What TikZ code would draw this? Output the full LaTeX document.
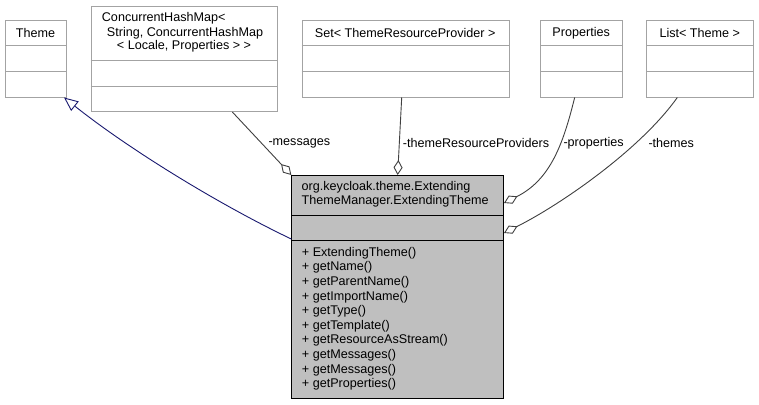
\documentclass[tikz,border=0pt]{standalone}
\usepackage{fontspec}
\setmainfont{Liberation Sans}
\usetikzlibrary{arrows.meta}
\definecolor{boxgray}{HTML}{A3A3A3}
\definecolor{mainfill}{HTML}{BFBFBF}
\definecolor{edgegray}{HTML}{404040}
\definecolor{inhblue}{HTML}{191970}
\tikzset{
  cls/.style={draw=boxgray, fill=white, line width=1pt, anchor=north west, inner sep=0pt},
  mainbox/.style={draw=black, fill=mainfill, line width=1pt, anchor=north west, inner sep=0pt},
  sepline/.style={draw=boxgray, line width=1pt},
  mainsep/.style={draw=black, line width=1pt},
  txt/.style={inner sep=0pt, font=\fontsize{12.6}{14.6}\selectfont},
  lbl/.style={txt, anchor=west},
  agg/.style={draw=edgegray, line width=0.9pt, -{Diamond[open, fill=white, length=15pt, width=9pt]}},
  inh/.style={draw=inhblue, line width=0.9pt, -{Triangle[open, fill=white, length=14pt, width=12pt]}},
}
\begin{document}
\begin{tikzpicture}[x=1pt,y=-1pt]
\useasboundingbox[fill=white] (0,0) rectangle (759,404);
% Theme
\node[cls, minimum width=61pt, minimum height=76pt] (theme) at (5,20.5) {};
\draw[sepline] (5,45.5) -- (66,45.5);
\draw[sepline] (5,71) -- (66,71);
\node[txt] (themet) at (35.5,33) {Theme};
% ConcurrentHashMap
\node[cls, minimum width=186.3pt, minimum height=105.3pt] (chm) at (90.7,5.7) {};
\draw[sepline] (90.7,60.7) -- (277,60.7);
\draw[sepline] (90.7,86) -- (277,86);
\node[txt, anchor=west] (chm1) at (101.7,18.5) {ConcurrentHashMap<};
\node[txt] (chm2) at (185,33) {String, ConcurrentHashMap};
\node[txt] (chm3) at (184,46) {< Locale, Properties > >};
% Set
\node[cls, minimum width=207pt, minimum height=76pt] (set) at (301.7,20.5) {};
\draw[sepline] (301.7,45.5) -- (508.7,45.5);
\draw[sepline] (301.7,71) -- (508.7,71);
\node[txt] (sett) at (405.2,33) {Set< ThemeResourceProvider >};
% Properties
\node[cls, minimum width=81.7pt, minimum height=76pt] (props) at (540.3,20.5) {};
\draw[sepline] (540.3,45.5) -- (622,45.5);
\draw[sepline] (540.3,71) -- (622,71);
\node[txt] (propst) at (581.2,33) {Properties};
% List
\node[cls, minimum width=107pt, minimum height=76pt] (list) at (646.3,20.5) {};
\draw[sepline] (646.3,45.5) -- (753.3,45.5);
\draw[sepline] (646.3,71) -- (753.3,71);
\node[txt] (listt) at (699.8,33) {List< Theme >};
% Main
\node[mainbox, minimum width=211.7pt, minimum height=222.7pt] (main) at (291.3,175) {};
\draw[mainsep] (291.3,215) -- (503,215);
\draw[mainsep] (291.3,240) -- (503,240);
\node[txt, anchor=north west, align=left] (maint) at (301.5,181) {org.keycloak.theme.Extending\\ThemeManager.ExtendingTheme};
\node[txt, anchor=north west, align=left] (members) at (301.7,247) {+ ExtendingTheme()\\+ getName()\\+ getParentName()\\+ getImportName()\\+ getType()\\+ getTemplate()\\+ getResourceAsStream()\\+ getMessages()\\+ getMessages()\\+ getProperties()};
% connectors
\draw[inh] ([yshift=-64pt]main.north west) .. controls (220,205) and (130,150) .. ([xshift=-3pt]theme.south east);
\draw[agg] ([xshift=48pt]chm.south) -- (main.north west);
\draw[agg] ([xshift=-4pt]set.south) -- (main.north);
\draw[agg] ([xshift=-7pt]props.south) .. controls (563,145) and (550,180) .. ([yshift=-28pt]main.north east);
\draw[agg] ([xshift=-23pt]list.south) .. controls (640,150) and (560,205) .. ([yshift=-58pt]main.north east);
% labels
\node[lbl] (lmsg) at (268.3,143) {-messages};
\node[lbl] (ltrp) at (402.7,143) {-themeResourceProviders};
\node[lbl] (lprop) at (563.3,143) {-properties};
\node[lbl] (lthemes) at (648.3,143) {-themes};
\end{tikzpicture}
\end{document}
